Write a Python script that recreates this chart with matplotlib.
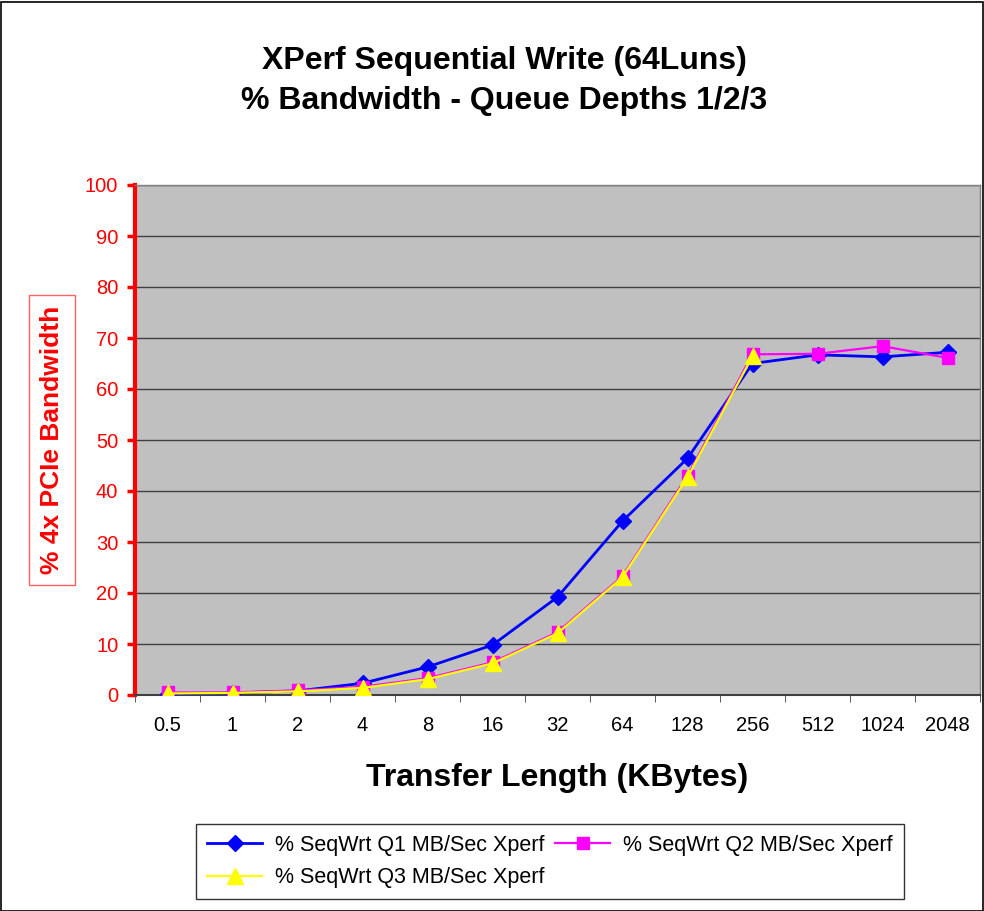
import matplotlib
matplotlib.use("Agg")
import matplotlib.pyplot as plt
from matplotlib.patches import Rectangle

plt.rcParams['font.family'] = ['Liberation Sans', 'DejaVu Sans']

categories = ["0.5", "1", "2", "4", "8", "16", "32", "64", "128", "256", "512", "1024", "2048"]
q1 = [0.2, 0.4, 0.8, 2.3, 5.5, 9.8, 19.2, 34.1, 46.4, 65.0, 66.7, 66.3, 67.2]
q2 = [0.5, 0.5, 0.9, 1.6, 3.3, 6.4, 12.3, 23.3, 43.0, 66.8, 66.9, 68.4, 66.1]
q3 = [0.3, 0.4, 0.7, 1.4, 3.1, 6.2, 12.1, 23.1, 42.7, 66.4]
labels = ["% SeqWrt Q1 MB/Sec Xperf", "% SeqWrt Q2 MB/Sec Xperf", "% SeqWrt Q3 MB/Sec Xperf"]
yticks = list(range(0, 101, 10))

W, H = 984, 911
fig = plt.figure(figsize=(W / 100, H / 100), dpi=100)
fig.patch.set_facecolor("white")
fig.add_artist(Rectangle((0.5 / W, 0.5 / H), (W - 2) / W, (H - 2) / H, transform=fig.transFigure,
                         fill=False, edgecolor="black", linewidth=1.2))

ax = fig.add_axes([135 / W, 1 - 695 / H, (980 - 135) / W, (695 - 185) / H])
ax.set_facecolor("#C0C0C0")
x = list(range(len(categories)))

h1, = ax.plot(x, q1, color="#0000FF", marker="D", markersize=8.5, linewidth=2, label=labels[0], zorder=3)
h2, = ax.plot(x, q2, color="#FF00FF", marker="s", markersize=9, linewidth=1.6, label=labels[1], zorder=4)
h3, = ax.plot(x[:len(q3)], q3, color="#FFFF00", marker="^", markersize=11, linewidth=1.6, label=labels[2], zorder=5)

ax.set_xlim(-0.5, len(categories) - 0.5)
ax.set_ylim(0, 100)
ax.set_yticks(yticks)
ax.set_yticklabels([str(v) for v in yticks], color="red", fontsize=14.5)
ax.set_xticks(x)
ax.set_xticklabels(categories, fontsize=14.5)
ax.tick_params(axis="x", length=0, pad=15)
ax.set_xticks([i - 0.5 for i in range(len(categories) + 1)], minor=True)
ax.tick_params(axis="x", which="minor", length=5, direction="out", color="#404040")
ax.tick_params(axis="y", length=6, width=2.5, color="red", direction="out", pad=6)
ax.yaxis.grid(True, color="#404040", linewidth=1)
ax.set_axisbelow(True)
for s in ["top", "right"]:
    ax.spines[s].set_color("#808080")
    ax.spines[s].set_linewidth(1)
ax.spines["left"].set_color("red")
ax.spines["left"].set_linewidth(3)
ax.spines["bottom"].set_color("#404040")
ax.spines["bottom"].set_linewidth(1.5)

fig.text(504 / W, 1 - 81 / H, "XPerf Sequential Write (64Luns)\n% Bandwidth - Queue Depths 1/2/3",
         ha="center", va="center", fontsize=23, fontweight="bold", linespacing=1.42)
fig.text(557 / W, 1 - 778 / H, "Transfer Length (KBytes)", ha="center", va="center",
         fontsize=23, fontweight="bold")
fig.text(52 / W, 1 - 440 / H, "% 4x PCIe Bandwidth", ha="center", va="center", rotation=90,
         fontsize=19, fontweight="bold", color="red",
         bbox=dict(boxstyle="square,pad=0.4", facecolor="white", edgecolor="#FF6060", linewidth=1))

leg = fig.legend([h1, h3, h2], [labels[0], labels[2], labels[1]], loc="center",
                 bbox_to_anchor=(550 / W, 1 - 861.5 / H), ncol=2, fontsize=15.5,
                 frameon=True, fancybox=False, edgecolor="black", handlelength=2.55,
                 columnspacing=0.5, handletextpad=0.6, borderpad=0.5, labelspacing=0.55,
                 borderaxespad=0)
leg.get_frame().set_linewidth(1)

fig.savefig("out.png", dpi=100)
